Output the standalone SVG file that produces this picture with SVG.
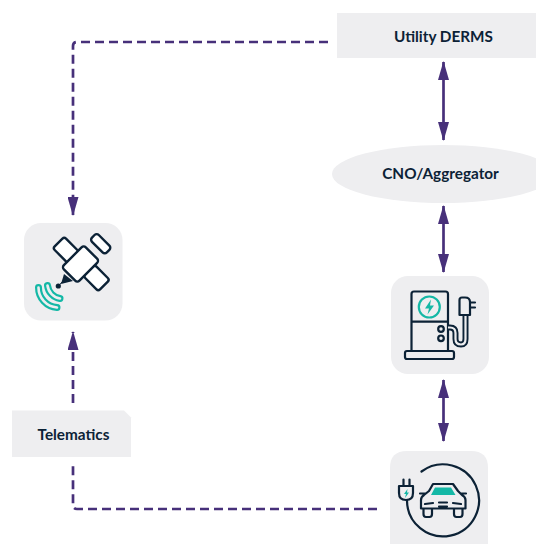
<svg xmlns="http://www.w3.org/2000/svg" width="536" height="544" viewBox="0 0 536 544">
<style>
.box{fill:#eeeef0}
.lbl{font-family:"Lato","Noto Sans",sans-serif;font-weight:700;font-size:15.3px;fill:#0c2236;text-anchor:middle}
.ln{fill:none;stroke:#47307a;stroke-width:2.700}
.dash{stroke-dasharray:9 5}
.ic{fill:none;stroke:#0c2236;stroke-width:2.200;stroke-linejoin:round;stroke-linecap:round}
.pan{fill:#fff;stroke:#0c2236;stroke-width:2.400}
.teal{fill:none;stroke:#14b8a6;stroke-width:2.200}
.tf{fill:#14b8a6}
</style>
<defs>
<marker id="tip" viewBox="0 0 19 11" refX="18" refY="5.500" markerUnits="userSpaceOnUse" markerWidth="19" markerHeight="11" orient="auto-start-reverse"><path d="M0 0L19 5.500L0 11z" fill="#47307a"/></marker>
</defs>
<g id="connectors">
<path class="ln dash" d="M328 42H77Q73 42 73 46V215" marker-end="url(#tip)"/>
<path class="ln dash" d="M377 509H77Q73 509 73 505V463"/>
<path class="ln dash" d="M73 403V332" marker-end="url(#tip)"/>
<path class="ln" d="M443.500 62V140" marker-start="url(#tip)" marker-end="url(#tip)"/>
<path class="ln" d="M443.500 206V272" marker-start="url(#tip)" marker-end="url(#tip)"/>
<path class="ln" d="M443.500 380V441" marker-start="url(#tip)" marker-end="url(#tip)"/>
</g>
<g id="utility-derms">
<rect class="box" x="337" y="13" width="199" height="45"/>
<text class="lbl" x="443.500" y="41.500">Utility DERMS</text>
</g>
<g id="cno-aggregator">
<ellipse class="box" cx="443" cy="174" rx="111" ry="29"/>
<text class="lbl" x="440.500" y="178.500">CNO/Aggregator</text>
</g>
<g id="telematics">
<path class="box" d="M12 410.500H124L131 417.500V457H12z"/>
<text class="lbl" x="73.500" y="440">Telematics</text>
</g>
<g id="satellite">
<rect class="box" x="24" y="223" width="98.500" height="97.500" rx="17"/>
<path d="M64 274L73 281L61 284z" fill="#0c2236"/>
<path d="M62 282L58.500 286" stroke="#0c2236" stroke-width="1"/>
<circle cx="58.300" cy="286" r="2.600" fill="#0c2236"/>
<rect class="pan" x="-10.500" y="-8" width="21" height="16" rx="2.500" transform="translate(66 250) rotate(45)"/>
<rect class="pan" x="-10.500" y="-8" width="21" height="16" rx="2.500" transform="translate(96.500 278) rotate(45)"/>
<rect class="pan" x="-10.500" y="-4.800" width="21" height="9.600" rx="3" transform="translate(100.700 243.700) rotate(45)"/>
<rect class="pan" x="-15.500" y="-11" width="31" height="22" rx="3" transform="translate(80.500 264) rotate(-45)"/>
<path d="M38.500 287.500A20 20 0 0 0 57 307.500" fill="none" stroke="#14b8a6" stroke-width="7" stroke-linecap="round"/>
<path d="M38.500 287.500A20 20 0 0 0 57 307.500" fill="none" stroke="#eeeef0" stroke-width="2.600" stroke-linecap="round"/>
<path d="M47.500 285.500A15 15 0 0 0 60 298.500" fill="none" stroke="#14b8a6" stroke-width="7" stroke-linecap="round"/>
<path d="M47.500 285.500A15 15 0 0 0 60 298.500" fill="none" stroke="#eeeef0" stroke-width="2.600" stroke-linecap="round"/>
</g>
<g id="charger">
<rect class="box" x="391" y="276" width="98" height="98" rx="17"/>
<path class="ic" d="M411.500 351V294Q411.500 291.500 414 291.500H445.500Q448 291.500 448 294V351M411.500 321.700H448"/>
<rect class="ic" x="405" y="351" width="49" height="8" rx="2"/>
<circle class="teal" cx="429.300" cy="307" r="10.500"/>
<path class="tf" d="M431 299.500L425 308.500H429L427.500 314.500L434 305.500H430z"/>
<circle class="ic" cx="441" cy="329" r="2.800"/>
<circle class="ic" cx="441" cy="338.300" r="2.800"/>
<path d="M448 327.500H450Q455.500 327.500 455.500 333V339Q455.500 344.500 461 344.500Q465.500 344.500 465.500 339V315" fill="none" stroke="#0c2236" stroke-width="6"/>
<path d="M448 327.500H450Q455.500 327.500 455.500 333V339Q455.500 344.500 461 344.500Q465.500 344.500 465.500 339V315" fill="none" stroke="#eeeef0" stroke-width="2.200"/>
<path class="ic" d="M459.500 315V300Q459.500 297.500 462 297.500H465Q470 297.500 470 302V315zM470 302.500H475M470 307.500H475"/>
</g>
<g id="ev">
<path class="box" d="M407 451H471Q488 451 488 468V544H390V468Q390 451 407 451z"/>
<path class="ic" d="M421.500 471.500A36 36 0 1 1 407 500"/>
<path class="ic" d="M403.500 486V479.500M409.500 486V479.500" stroke-width="3.500"/>
<path class="ic" fill="#eeeef0" d="M399 486H413V493Q413 500 406 500Q399 500 399 493z"/>
<path class="tf" d="M407.500 489L404 494H406L405 498L409 492.500H407z"/>
<path class="ic" d="M429 491L433 484H453L458 491L462 495Q465.500 497 465.500 500V508.500H421V500Q421 497 424 495zM420 493.500H425M461 493.500H466M423.500 509V514Q423.500 517 426 517H429.500Q432 517 432 514V509M454 509V514Q454 517 456.500 517H460Q462.500 517 462.500 514V509M425 504L433 503M453 503L461 504M439 502.500H447M439 506.500H447"/>
<path class="tf" d="M435 487.500H451L455.500 495H431z"/>
</g>
</svg>
